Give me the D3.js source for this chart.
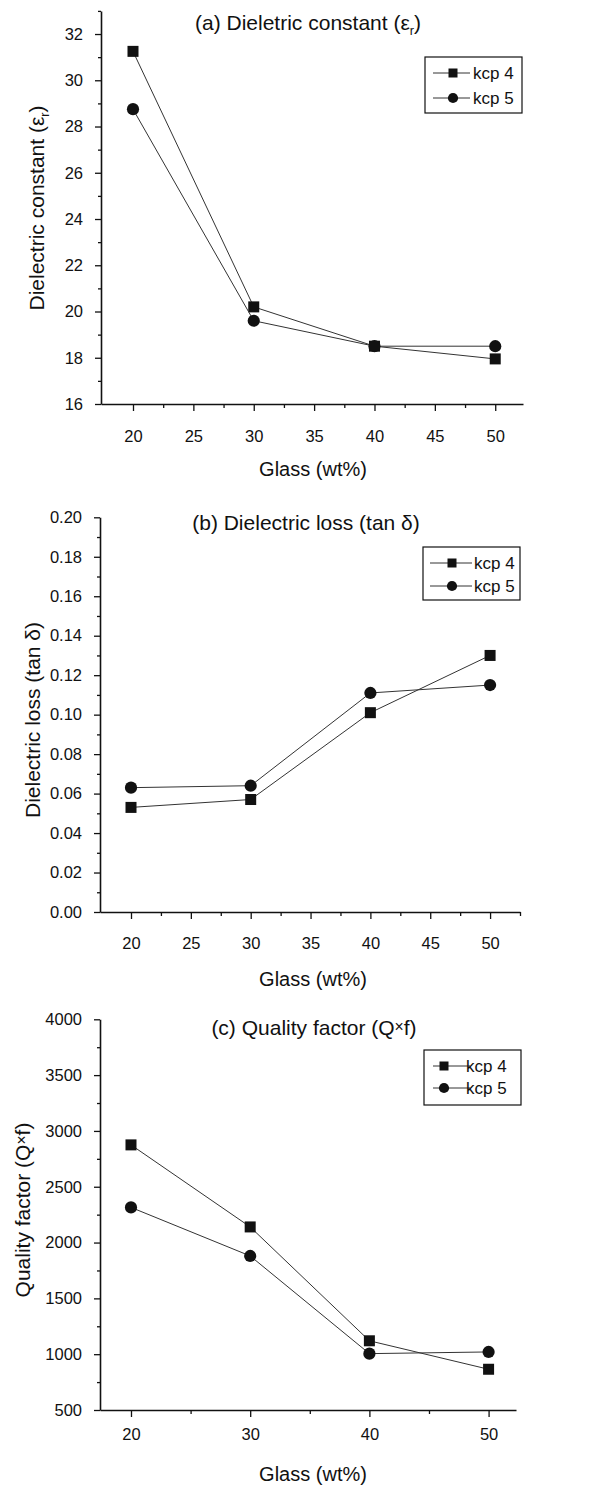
<!DOCTYPE html>
<html>
<head>
<meta charset="utf-8">
<script src="https://cdn.jsdelivr.net/npm/d3@7"></script>
<style>
  html, body { margin: 0; padding: 0; background: #fff; }
  svg { display: block; font-family: Arial, "Liberation Sans", Helvetica, sans-serif; }
</style>
</head>
<body>
<svg id="chart" width="608" height="1486"></svg>
<script>
// Glass content shared by all three panels
const glassWt = [20, 30, 40, 50];

// (a) dielectric constant
const epsKcp4 = [31.25, 20.2, 18.5, 17.95];
const epsKcp5 = [28.75, 19.6, 18.5, 18.5];

// (b) dielectric loss
const tanKcp4 = [0.053, 0.057, 0.101, 0.130];
const tanKcp5 = [0.063, 0.064, 0.111, 0.115];

// (c) quality factor
const qfKcp4 = [2875, 2140, 1120, 865];
const qfKcp5 = [2315, 1880, 1005, 1020];

// tick values
const xTicksAB = [20, 25, 30, 35, 40, 45, 50];
const xTicksC = [20, 30, 40, 50];
const yTicksA = [16, 18, 20, 22, 24, 26, 28, 30, 32];
const yTicksB = [0, 0.02, 0.04, 0.06, 0.08, 0.10, 0.12, 0.14, 0.16, 0.18, 0.20];
const yTicksC = [500, 1000, 1500, 2000, 2500, 3000, 3500, 4000];

const seriesNames = ["kcp 4", "kcp 5"];

const svg = d3.select("#chart");

// Panel layout
const panels = [
  {
    title: ["(a) Dieletric constant (ε", "r", ")"],
    ylab: ["Dielectric constant (ε", "r", ")"],
    s1: epsKcp4, s2: epsKcp5,
    xDom: [17.35, 52.3], xRng: [101, 523],
    yDom: [16, 33], yRng: [404, 10.9],
    xTicks: xTicksAB, xMinorStep: 2.5, yTicks: yTicksA, yMinorStep: 1,
    yFmt: d3.format("d"),
    titleX: 308, titleY: 30,
    ylabX: 37, ylabY: 208,
    xLabOff: 26, glassY: 476,
    legend: {x0: 425, y0: 57, x1: 522, y1: 113, r1: 73, r2: 98, l0: 433, l1: 470, m: 453, t: 473}
  },
  {
    title: ["(b) Dielectric loss (tan δ)"],
    ylab: ["Dielectric loss (tan δ)"],
    s1: tanKcp4, s2: tanKcp5,
    xDom: [17.41, 52.5], xRng: [100, 520],
    yDom: [0, 0.2], yRng: [912, 517.3],
    xTicks: xTicksAB, xMinorStep: 2.5, yTicks: yTicksB, yMinorStep: 0.01,
    yFmt: d3.format(".2f"),
    titleX: 306, titleY: 530,
    ylabX: 33, ylabY: 720,
    xLabOff: 25, glassY: 986,
    legend: {x0: 423, y0: 547, x1: 520, y1: 600, r1: 563, r2: 586, l0: 430, l1: 472, m: 452, t: 474}
  },
  {
    title: ["(c) Quality factor (Q", "×", "f)"],
    ylab: ["Quality  factor (Q", "×", "f)"],
    s1: qfKcp4, s2: qfKcp5,
    xDom: [17.4, 52.3], xRng: [100, 516],
    yDom: [500, 4000], yRng: [1410, 1019.3],
    xTicks: xTicksC, xMinorStep: 5, yTicks: yTicksC, yMinorStep: 250,
    yFmt: d3.format("d"),
    titleX: 314, titleY: 1035,
    ylabX: 23, ylabY: 1210,
    xLabOff: 18, glassY: 1481,
    legend: {x0: 424, y0: 1050, x1: 521, y1: 1105, r1: 1066, r2: 1088, l0: 433, l1: 470, m: 444, t: 466}
  }
];

const ink = "#111";

function richText(sel, parts, size) {
  // parts: [main, special, rest]; special is a subscript "r" or a raised "×"
  sel.append("tspan").text(parts[0]);
  if (parts.length > 1) {
    if (parts[1] === "r") {
      sel.append("tspan").attr("font-size", size * 0.6).attr("dy", size * 0.22).text(parts[1]);
      sel.append("tspan").attr("dy", -size * 0.22).text(parts[2]);
    } else {
      sel.append("tspan").attr("font-size", size * 0.75).attr("dy", -size * 0.15).text(parts[1]);
      sel.append("tspan").attr("dy", size * 0.15).text(parts[2]);
    }
  }
}

function drawMarker(g, kind, cx, cy, size) {
  if (kind === 0) {
    g.append("rect")
      .attr("x", cx - size / 2).attr("y", cy - size / 2)
      .attr("width", size).attr("height", size)
      .attr("fill", ink);
  } else {
    g.append("circle").attr("cx", cx).attr("cy", cy).attr("r", size / 2 + 0.6).attr("fill", ink);
  }
}

panels.forEach(p => {
  const x = d3.scaleLinear().domain(p.xDom).range(p.xRng);
  const y = d3.scaleLinear().domain(p.yDom).range(p.yRng);
  const g = svg.append("g");

  // minor ticks
  const xMinor = d3.range(20, p.xDom[1] + 1e-9, p.xMinorStep).filter(v => !p.xTicks.some(t => Math.abs(t - v) < 1e-9));
  const yMinor = d3.range(p.yDom[0], p.yDom[1] + 1e-9, p.yMinorStep).filter(v => !p.yTicks.some(t => Math.abs(t - v) < 1e-9));

  const xAxisY = p.yRng[0];
  const xAx = g.append("g").attr("transform", `translate(0,${xAxisY})`)
    .call(d3.axisBottom(x).tickValues(xMinor).tickSize(4).tickSizeOuter(0).tickFormat(""));
  xAx.selectAll("line").attr("stroke", ink).attr("stroke-width", 1.3);
  xAx.select(".domain").attr("stroke", ink).attr("stroke-width", 1.6);

  const xMaj = g.append("g").attr("transform", `translate(0,${xAxisY})`)
    .call(d3.axisBottom(x).tickValues(p.xTicks).tickSize(7).tickSizeOuter(0).tickPadding(p.xLabOff - 7));
  xMaj.select(".domain").remove();
  xMaj.selectAll("line").attr("stroke", ink).attr("stroke-width", 1.3);
  xMaj.selectAll("text").attr("font-size", 16.5).attr("fill", ink)
    .attr("font-family", "Arial, 'Liberation Sans', sans-serif");

  const yAx = g.append("g").attr("transform", `translate(${p.xRng[0]},0)`)
    .call(d3.axisLeft(y).tickValues(yMinor).tickSize(3).tickSizeOuter(0).tickFormat(""));
  yAx.selectAll("line").attr("stroke", ink).attr("stroke-width", 1.3);
  yAx.select(".domain").attr("stroke", ink).attr("stroke-width", 1.6);

  const yMaj = g.append("g").attr("transform", `translate(${p.xRng[0]},0)`)
    .call(d3.axisLeft(y).tickValues(p.yTicks).tickSize(6).tickSizeOuter(0).tickPadding(12).tickFormat(p.yFmt));
  yMaj.select(".domain").remove();
  yMaj.selectAll("line").attr("stroke", ink).attr("stroke-width", 1.3);
  yMaj.selectAll("text").attr("font-size", 16.5).attr("fill", ink)
    .attr("font-family", "Arial, 'Liberation Sans', sans-serif");

  // series lines and markers
  [p.s1, p.s2].forEach((vals, k) => {
    const pts = glassWt.map((gw, i) => [x(gw), y(vals[i])]);
    g.append("path")
      .attr("d", d3.line()(pts))
      .attr("fill", "none").attr("stroke", "#333").attr("stroke-width", 1);
    pts.forEach(pt => drawMarker(g, k, pt[0], pt[1], 11));
  });

  // panel title
  const t = g.append("text").attr("x", p.titleX).attr("y", p.titleY)
    .attr("text-anchor", "middle").attr("font-size", 21).attr("fill", ink);
  richText(t, p.title, 21);

  // axis titles
  g.append("text").attr("x", 313).attr("y", p.glassY)
    .attr("text-anchor", "middle").attr("font-size", 20).attr("fill", ink)
    .text("Glass (wt%)");
  const yl = g.append("text")
    .attr("transform", `translate(${p.ylabX + 7},${p.ylabY}) rotate(-90)`)
    .attr("text-anchor", "middle").attr("font-size", 21).attr("fill", ink);
  richText(yl, p.ylab, 21);

  // legend
  const L = p.legend;
  g.append("rect").attr("x", L.x0).attr("y", L.y0)
    .attr("width", L.x1 - L.x0).attr("height", L.y1 - L.y0)
    .attr("fill", "#fff").attr("stroke", ink).attr("stroke-width", 1.2);
  [L.r1, L.r2].forEach((ry, k) => {
    g.append("line").attr("x1", L.l0).attr("x2", L.l1).attr("y1", ry).attr("y2", ry)
      .attr("stroke", "#333").attr("stroke-width", 1);
    drawMarker(g, k, L.m, ry, 9);
    g.append("text").attr("x", L.t).attr("y", ry + 6).attr("font-size", 17).attr("fill", ink)
      .text(seriesNames[k]);
  });
});
</script>
</body>
</html>
